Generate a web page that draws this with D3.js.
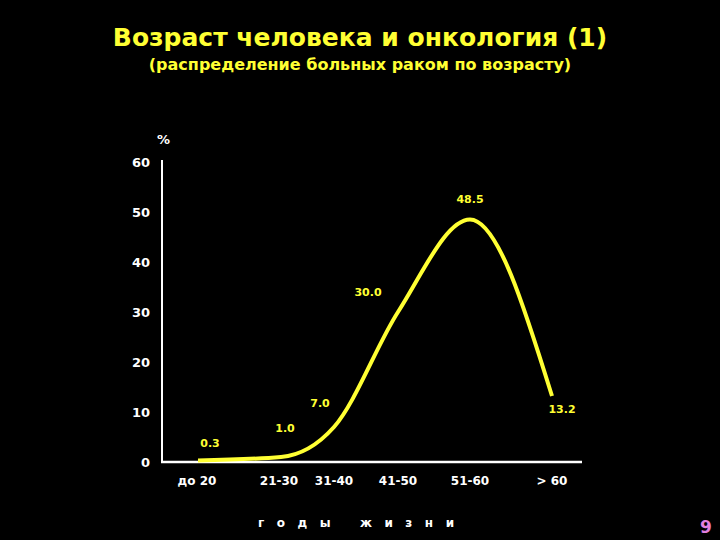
<!DOCTYPE html>
<html><head><meta charset="utf-8">
<script src="https://cdn.jsdelivr.net/npm/d3@7"></script>
<style>body{margin:0;background:#000}</style>
</head><body>
<script>
var categories = ["до 20", "21-30", "31-40", "41-50", "51-60", "> 60"];
var values = [0.3, 1.0, 7.0, 30.0, 48.5, 13.2];
var valueLabels = ["0.3", "1.0", "7.0", "30.0", "48.5", "13.2"];
var yTicks = [0, 10, 20, 30, 40, 50, 60];

var width = 720, height = 540;
var svg = d3.select("body").append("svg").attr("width", width).attr("height", height)
    .style("background", "#000").style("font-family", "Verdana, 'DejaVu Sans', sans-serif");

// category centres are unevenly spaced in the original slide
var x = d3.scaleOrdinal().domain(categories).range([198, 281, 334, 398, 470, 552]);
var y = d3.scaleLinear().domain([0, 60]).range([462, 162]);

svg.append("text").attr("x", 360).attr("y", 46).attr("text-anchor", "middle")
    .attr("fill", "#ffff33").attr("font-weight", "bold").attr("font-size", 25)
    .text("Возраст человека и онкология (1)");
svg.append("text").attr("x", 360).attr("y", 70).attr("text-anchor", "middle")
    .attr("fill", "#ffff33").attr("font-weight", "bold").attr("font-size", 16)
    .text("(распределение больных раком по возрасту)");

svg.append("line").attr("x1", 162).attr("x2", 162).attr("y1", 160).attr("y2", y(0))
    .attr("stroke", "#fff").attr("stroke-width", 2);
svg.append("line").attr("x1", 161).attr("x2", 582).attr("y1", y(0)).attr("y2", y(0))
    .attr("stroke", "#fff").attr("stroke-width", 2.5);

svg.selectAll(".yt").data(yTicks).enter().append("text")
    .attr("x", 150).attr("y", function(d) { return y(d) + 5; })
    .attr("text-anchor", "end").attr("fill", "#fff").attr("font-weight", "bold").attr("font-size", 13)
    .text(function(d) { return d; });
svg.append("text").attr("x", 157).attr("y", 144).attr("fill", "#fff").attr("font-weight", "bold")
    .attr("font-size", 13).text("%");

svg.selectAll(".xt").data(categories).enter().append("text")
    .attr("x", function(d, i) { return i == 0 ? 197 : i == 1 ? 279 : x(d); }).attr("y", 485)
    .attr("text-anchor", "middle").attr("fill", "#fff").attr("font-weight", "bold").attr("font-size", 12)
    .text(function(d) { return d; });

svg.append("text").attr("x", 258).attr("y", 527).attr("fill", "#fff").attr("font-weight", "bold")
    .attr("font-size", 12).attr("xml:space", "preserve").style("white-space", "pre")
    .text("г   о   д   ы       ж   и   з   н   и");

var line = d3.line().x(function(d, i) { return x(categories[i]); }).y(function(d) { return y(d); })
    .curve(d3.curveMonotoneX);
svg.append("path").datum(values).attr("d", line).attr("fill", "none")
    .attr("stroke", "#ffff33").attr("stroke-width", 4).attr("stroke-linejoin", "round");

var labelDx = [12, 4, -14, -30, 0, 10];
var labelDy = [-14, -25, -20, -16, -17, 17];
svg.selectAll(".vl").data(values).enter().append("text")
    .attr("x", function(d, i) { return x(categories[i]) + labelDx[i]; })
    .attr("y", function(d, i) { return y(d) + labelDy[i]; })
    .attr("text-anchor", "middle").attr("fill", "#ffff33").attr("font-weight", "bold").attr("font-size", 11)
    .text(function(d, i) { return valueLabels[i]; });

svg.append("text").attr("x", 706).attr("y", 533).attr("text-anchor", "middle")
    .attr("fill", "#e080e0").attr("font-weight", "bold").attr("font-size", 17).text("9");
</script>
</body></html>
